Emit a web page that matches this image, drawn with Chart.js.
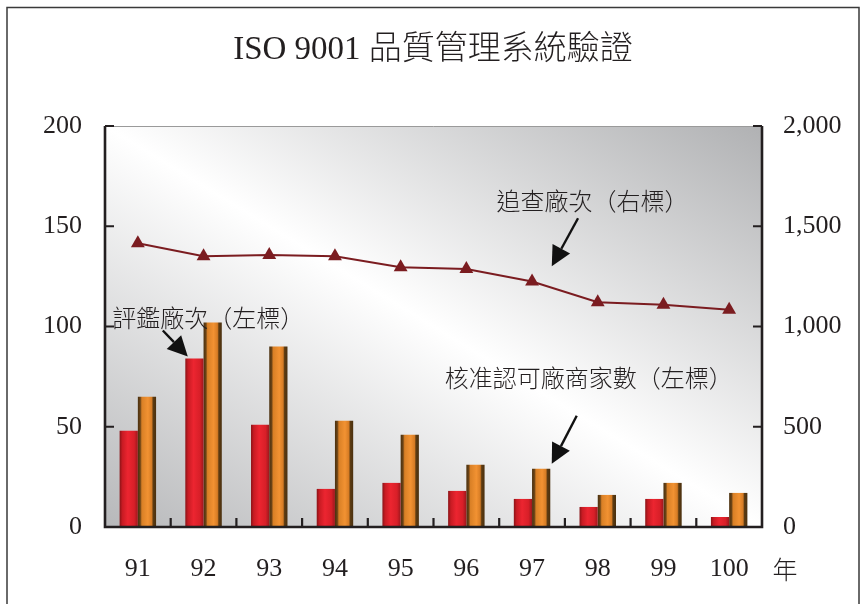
<!DOCTYPE html>
<html><head><meta charset="utf-8">
<script src="https://cdn.jsdelivr.net/npm/chart.js@4"></script>
<style>html,body{margin:0;padding:0;background:#fff}#wrap{width:861px;height:604px}</style>
</head><body><div id="wrap"><canvas id="c" width="861" height="604"></canvas></div>
<script>
// ---- data ----
const years = ['91','92','93','94','95','96','97','98','99','100'];
const inspections = [48, 84, 51, 19, 22, 18, 14, 10, 14, 5];        // 評鑑廠次 (左標)
const approved    = [65, 102, 90, 53, 46, 31, 29, 16, 22, 17];      // 核准認可廠商家數 (左標)
const followUps   = [1415, 1350, 1357, 1350, 1295, 1287, 1224, 1121, 1109, 1084]; // 追查廠次 (右標)
const leftTicks  = [0, 50, 100, 150, 200];
const rightTicks = [0, 500, 1000, 1500, 2000];

const INK = '#231f20';
const NUM_FONT = "'Liberation Serif','Times New Roman','Noto Sans CJK TC',serif";
const CJK_FONT = "'Noto Sans CJK TC','Liberation Serif',serif";

const backgroundPlugin = {
  id: 'bg',
  beforeDraw(chart) {
    const {ctx, chartArea: a} = chart;
    ctx.save();
    ctx.fillStyle = '#fff';
    ctx.fillRect(0, 0, chart.width, chart.height);
    // outer frame
    ctx.strokeStyle = '#3a3a3a';
    ctx.lineWidth = 1.5;
    ctx.beginPath();
    ctx.moveTo(7, chart.height); ctx.lineTo(7, 7.5); ctx.lineTo(859, 7.5); ctx.lineTo(859, chart.height);
    ctx.stroke();
    // plot gradient: white band along the top-left -> bottom-right diagonal
    const cx = (a.left + a.right) / 2, cy = (a.top + a.bottom) / 2;
    const w = a.right - a.left, h = a.bottom - a.top;
    const len = Math.hypot(w, h);
    const nx = h / len, ny = -w / len;
    const d = Math.abs((-w / 2) * nx + (h / 2) * ny);
    const g = ctx.createLinearGradient(cx - d * nx, cy - d * ny, cx + d * nx, cy + d * ny);
    g.addColorStop(0, '#b7b8ba');
    g.addColorStop(0.5, '#ffffff');
    g.addColorStop(1, '#b0b1b3');
    ctx.fillStyle = g;
    ctx.fillRect(a.left, a.top, w, h);
    ctx.restore();
  }
};

const barShadePlugin = {
  id: 'barShade',
  beforeDatasetsDraw(chart) {
    const ctx = chart.ctx;
    const palettes = [
      [[0,'#8a1317'],[0.15,'#c81b23'],[0.45,'#ec2530'],[0.8,'#d81f28'],[1,'#9c171c']],
      [[0,'#4a300f'],[0.13,'#6a4316'],[0.22,'#d98026'],[0.55,'#f29232'],[0.76,'#d67c25'],[0.84,'#5c3b12'],[1,'#4a300f']]
    ];
    [0, 1].forEach(di => {
      const meta = chart.getDatasetMeta(di);
      meta.data.forEach(el => {
        const {x, width} = el.getProps(['x', 'width'], true);
        const g = ctx.createLinearGradient(x - width / 2, 0, x + width / 2, 0);
        palettes[di].forEach(([o, c]) => g.addColorStop(o, c));
        el.options = Object.assign({}, el.options, {backgroundColor: g});
      });
    });
  }
};

const overlayPlugin = {
  id: 'overlay',
  afterDatasetsDraw(chart) {
    const {ctx, chartArea: a, scales} = chart;
    const xs = scales.x, yl = scales.y, yr = scales.y1;
    ctx.save();
    // plot borders
    ctx.strokeStyle = '#9a9a9a';
    ctx.lineWidth = 1;
    ctx.beginPath(); ctx.moveTo(a.left, a.top + 0.5); ctx.lineTo(a.right, a.top + 0.5); ctx.stroke();
    ctx.strokeStyle = INK;
    ctx.lineWidth = 2.6;
    ctx.beginPath();
    ctx.moveTo(a.left, a.top); ctx.lineTo(a.left, a.bottom); ctx.lineTo(a.right, a.bottom); ctx.lineTo(a.right, a.top);
    ctx.stroke();
    // inward tick marks
    ctx.lineWidth = 2.2;
    ctx.beginPath();
    leftTicks.forEach(v => { const y = yl.getPixelForValue(v); ctx.moveTo(a.left, y); ctx.lineTo(a.left + 9, y); });
    rightTicks.forEach(v => { const y = yr.getPixelForValue(v); ctx.moveTo(a.right, y); ctx.lineTo(a.right - 9, y); });
    for (let i = 1; i < years.length; i++) {
      const x = (xs.getPixelForValue(i - 1) + xs.getPixelForValue(i)) / 2;
      ctx.moveTo(x, a.bottom); ctx.lineTo(x, a.bottom - 9);
    }
    ctx.stroke();

    // annotations (positions in category-index / left-axis units)
    const px = i => xs.getPixelForValue(0) + i * (xs.getPixelForValue(1) - xs.getPixelForValue(0));
    const py = v => yl.getPixelForValue(v);
    ctx.fillStyle = INK;
    ctx.font = '300 24px ' + CJK_FONT;
    ctx.textBaseline = 'middle';
    ctx.textAlign = 'left';
    [
      ['追查廠次（右標）', 5.46, 162.5],
      ['評鑑廠次（左標）', -0.39, 104.5],
      ['核准認可廠商家數（左標）', 4.67, 74.5]
    ].forEach(([t, i, v]) => ctx.fillText(t, px(i), py(v)));

    const arrow = (x1, y1, x2, y2) => {
      const ang = Math.atan2(y2 - y1, x2 - x1);
      const L = 20, W = 10;
      const bx = x2 - L * Math.cos(ang), by = y2 - L * Math.sin(ang);
      ctx.strokeStyle = '#111';
      ctx.lineWidth = 2.4;
      ctx.beginPath(); ctx.moveTo(x1, y1); ctx.lineTo(bx, by); ctx.stroke();
      ctx.fillStyle = '#111';
      ctx.beginPath();
      ctx.moveTo(x2, y2);
      ctx.lineTo(bx + W * Math.sin(ang), by - W * Math.cos(ang));
      ctx.lineTo(bx - W * Math.sin(ang), by + W * Math.cos(ang));
      ctx.closePath(); ctx.fill();
    };
    arrow(px(6.70), py(154), px(6.30), py(130));
    arrow(px(0.38), py(98), px(0.76), py(85));
    arrow(px(6.68), py(55.5), px(6.30), py(31.5));

    // unit label 年
    ctx.fillStyle = INK;
    ctx.font = '300 25px ' + CJK_FONT;
    ctx.textAlign = 'center';
    ctx.fillText('年', a.right + 23, a.bottom + 42);
    ctx.restore();
  }
};

new Chart(document.getElementById('c'), {
  data: {
    labels: years,
    datasets: [
      {type: 'bar', label: '評鑑廠次(左標)', data: inspections, yAxisID: 'y', backgroundColor: '#e3222b',
       categoryPercentage: 0.555, barPercentage: 1.0, order: 2},
      {type: 'bar', label: '核准認可廠商家數(左標)', data: approved, yAxisID: 'y', backgroundColor: '#ee8c2c',
       categoryPercentage: 0.555, barPercentage: 1.0, order: 2},
      {type: 'line', label: '追查廠次(右標)', data: followUps, yAxisID: 'y1', borderColor: '#7b1c20',
       backgroundColor: '#7b1c20', borderWidth: 2, pointStyle: 'triangle', pointRadius: 8,
       pointBackgroundColor: '#7b1c20', pointBorderColor: '#7b1c20', pointBorderWidth: 0, tension: 0, order: 0}
    ]
  },
  options: {
    responsive: false,
    animation: false,
    devicePixelRatio: 1,
    layout: {padding: {left: 5, right: 0, top: 0, bottom: 0}},
    plugins: {
      legend: {display: false},
      tooltip: {enabled: false},
      title: {
        display: true,
        text: 'ISO 9001 品質管理系統驗證',
        color: INK,
        font: {family: NUM_FONT, size: 33, weight: 300},
        padding: {top: 31, bottom: 55.4}
      }
    },
    scales: {
      x: {
        offset: true,
        grid: {display: false, drawTicks: false},
        border: {display: false},
        ticks: {color: INK, font: {family: NUM_FONT, size: 26}, padding: 27, maxRotation: 0},
        afterFit(s) { s.height = 77; }
      },
      y: {
        position: 'left', min: 0, max: 200,
        afterBuildTicks(s) { s.ticks = leftTicks.map(v => ({value: v})); },
        grid: {display: false, drawTicks: false},
        border: {display: false},
        ticks: {color: INK, font: {family: NUM_FONT, size: 26}, padding: 23},
        afterFit(s) { s.width = 100; }
      },
      y1: {
        position: 'right', min: 0, max: 2000,
        afterBuildTicks(s) { s.ticks = rightTicks.map(v => ({value: v})); },
        grid: {display: false, drawTicks: false},
        border: {display: false},
        ticks: {color: INK, font: {family: NUM_FONT, size: 26}, padding: 21,
                callback: v => v.toLocaleString('en-US')},
        afterFit(s) { s.width = 99; }
      }
    }
  },
  plugins: [backgroundPlugin, barShadePlugin, overlayPlugin]
});
</script>
</body></html>
